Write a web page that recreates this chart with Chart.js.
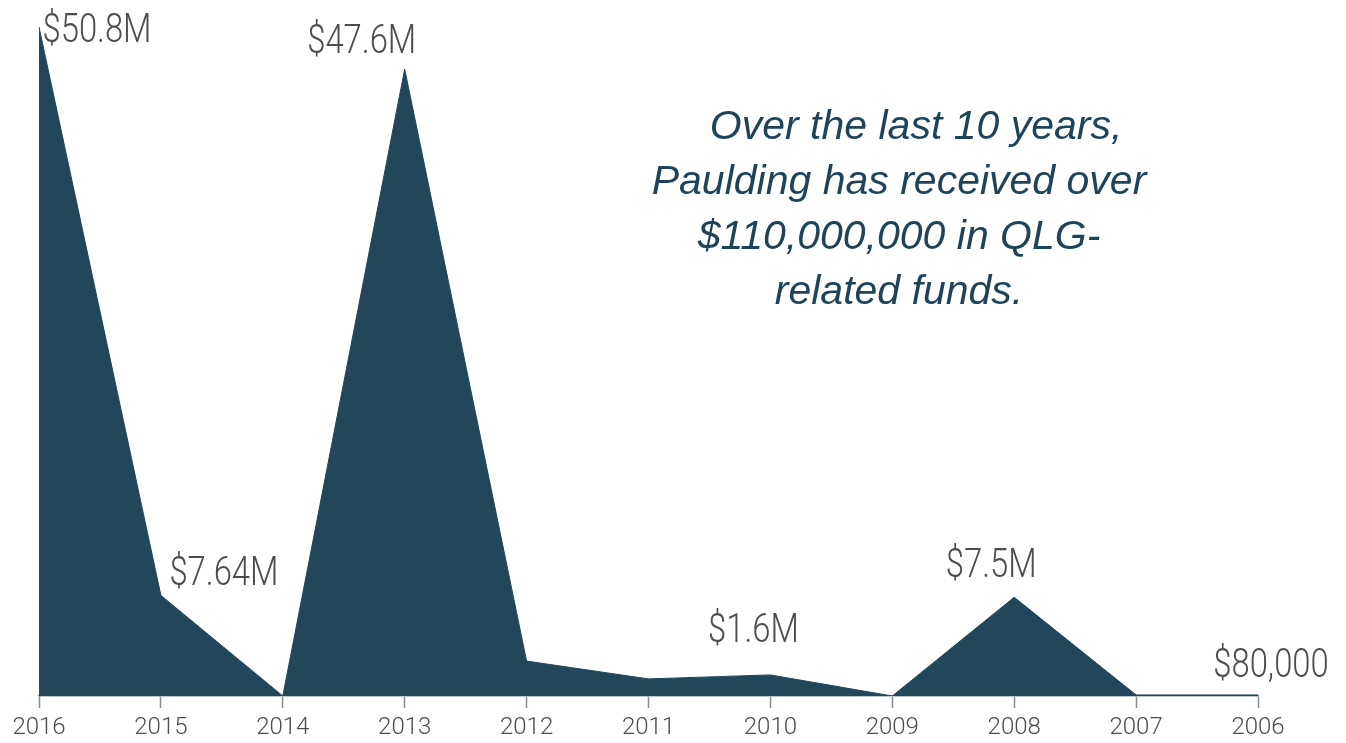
<!DOCTYPE html>
<html>
<head>
<meta charset="utf-8">
<script src="https://cdn.jsdelivr.net/npm/chart.js@4.4.1/dist/chart.umd.min.js"></script>
<style>
  body { margin: 0; background: #fff; }
  #wrap { width: 1346px; height: 743px; }
</style>
</head>
<body>
<div id="wrap"><canvas id="myChart"></canvas></div>
<script>
// QLG-related funds per year, in millions of dollars
let years = ['2016', '2015', '2014', '2013', '2012', '2011', '2010', '2009', '2008', '2007', '2006']
let funds = [50.8, 7.64, 0, 47.6, 2.65, 1.3, 1.6, 0, 7.5, 0.08, 0.08]
let pointLabels = ['$50.8M', '$7.64M', '', '$47.6M', '', '', '$1.6M', '', '$7.5M', '', '$80,000']
let noteLines = ['   Over the last 10 years,', 'Paulding has received over', '$110,000,000 in QLG-', 'related funds.']

// label offsets from their point, [dx, dy] to the text baseline centre
let labelOffsets = {
  0: [58, 15],
  1: [63, -10],
  3: [-43, -16],
  6: [-17, -33],
  8: [-23, -20],
  10: [13, -18]
}

const labelsPlugin = {
  id: 'labelsPlugin',
  afterDatasetsDraw(chart) {
    const ctx = chart.ctx
    const meta = chart.getDatasetMeta(0)
    ctx.save()
    ctx.fillStyle = '#4d4d4d'
    ctx.font = '300 40px Roboto, sans-serif'
    ctx.textAlign = 'center'
    ctx.textBaseline = 'alphabetic'
    meta.data.forEach((pt, i) => {
      if (!pointLabels[i]) return
      const off = labelOffsets[i] || [0, -25]
      ctx.save()
      ctx.translate(pt.x + off[0], pt.y + off[1])
      ctx.scale(0.82, 1)  // condensed look
      ctx.fillText(pointLabels[i], 0, 0)
      ctx.restore()
    })

    ctx.fillStyle = '#1f4459'
    ctx.font = 'italic 41px "Liberation Sans", Arial, sans-serif'
    ctx.textBaseline = 'middle'
    noteLines.forEach((line, i) => {
      ctx.fillText(line, 899, 128 + i * 55)
    })
    ctx.restore()
  }
}

new Chart(document.getElementById('myChart'), {
  type: 'line',
  data: {
    labels: years,
    datasets: [{
      data: funds,
      fill: 'origin',
      backgroundColor: '#22475a',
      borderColor: '#22475a',
      borderWidth: 1,
      tension: 0,
      pointRadius: 0
    }]
  },
  options: {
    responsive: true,
    maintainAspectRatio: false,
    animation: false,
    layout: {
      padding: { top: 27, left: 39, right: 88, bottom: -5 }
    },
    plugins: {
      legend: { display: false },
      tooltip: { enabled: false }
    },
    scales: {
      x: {
        offset: false,
        border: { display: true, color: '#7d8d97', width: 1.5 },
        grid: {
          drawOnChartArea: false,
          drawTicks: true,
          tickLength: 12,
          tickColor: '#7d8d97',
          tickWidth: 1.5
        },
        ticks: {
          color: '#4d4d4d',
          padding: 8,
          maxRotation: 0,
          autoSkip: false,
          font: { family: 'Roboto, sans-serif', size: 24, weight: '300', lineHeight: 1 }
        }
      },
      y: {
        display: false,
        min: 0,
        max: 50.8
      }
    }
  },
  plugins: [labelsPlugin]
})
</script>
</body>
</html>
